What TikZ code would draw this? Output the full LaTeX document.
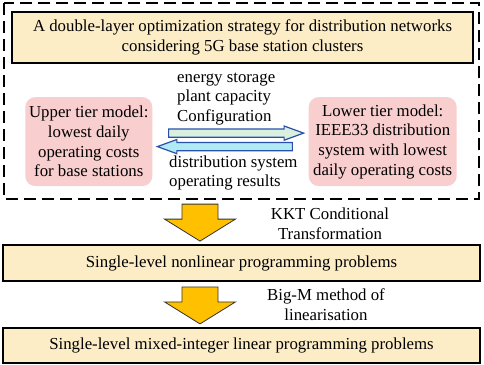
\documentclass[tikz,border=0pt]{standalone}
\usepackage{fontspec}
\setmainfont{Liberation Serif}
\usetikzlibrary{positioning,shapes.arrows,calc}
\definecolor{paleyellow}{RGB}{253,237,199}
\definecolor{palepink}{RGB}{249,206,206}
\definecolor{gold}{RGB}{255,192,0}
\definecolor{arrowblue}{RGB}{40,80,170}
\definecolor{palegreen}{RGB}{218,240,222}
\definecolor{palecyan}{RGB}{178,234,244}

\begin{document}
\begin{tikzpicture}[font=\fontsize{16.8}{19.7}\selectfont,node distance=6pt,
 titlebox/.style={draw,line width=1.8pt,fill=paleyellow,align=center,inner sep=0pt},
 modelbox/.style={fill=palepink,rounded corners=10pt,align=center,inner sep=0pt,minimum height=89pt},
 thinarrow/.style={single arrow,draw=arrowblue,line width=1.2pt,inner xsep=0pt,inner ysep=3.5pt,
  single arrow head extend=3pt,single arrow tip angle=40,minimum height=135pt},
 bigarrow/.style={draw=black!80,fill=gold,line width=0.8pt},
 note/.style={inner sep=0pt,align=left}]
\useasboundingbox (0,0) rectangle (484pt,-364pt);
\draw[dash pattern=on 12pt off 6pt,line width=1.6pt] (4pt,-3pt) rectangle (479pt,-199pt);
\node[titlebox,minimum width=461pt,minimum height=51pt] (title) at (242.5pt,-37.5pt)
 {A double-layer optimization strategy for distribution networks\\considering 5G base station clusters};
\node[modelbox,minimum width=127pt,below right=33pt and 14pt of title.south west] (upper)
 {Upper tier model:\\lowest daily\\operating costs\\for base stations};
\node[modelbox,minimum width=148pt,right=156pt of upper] (lower)
 {Lower tier model:\\IEEE33 distribution\\system with lowest\\daily operating costs};
\node[thinarrow,fill=palegreen] (config) at ($(upper.east)!0.5!(lower.west)+(0,8.5pt)$) {};
\node[thinarrow,fill=palecyan,shape border rotate=180] (results) at ($(upper.east)!0.5!(lower.west)+(0,-5pt)$) {};
\node[note,anchor=west] (configtext) at (177pt,-99pt) {energy storage\\plant capacity\\Configuration};
\node[note,anchor=west] (resultstext) at (169pt,-173pt) {distribution system\\operating results};
\node[titlebox,minimum width=477pt,minimum height=36pt] (nlp) at (241.5pt,-263pt)
 {Single-level nonlinear programming problems};
\node[titlebox,minimum width=477pt,minimum height=35pt,below=45pt of nlp] (milp)
 {Single-level mixed-integer linear programming problems};
\foreach \b in {nlp,milp}
 \draw[bigarrow,shift={([xshift=-41.5pt,yshift=40pt]\b.north)}] (-18pt,0) -- (18pt,0) -- (18pt,-15pt)
  -- (35.5pt,-15pt) -- (0,-37pt) -- (-35.5pt,-15pt) -- (-18pt,-15pt) -- cycle;
\node[note,align=center] (kkt) at (330pt,-223.5pt) {KKT Conditional\\Transformation};
\node[note,align=center] (bigm) at (326pt,-305pt) {Big-M method of\\linearisation};
\end{tikzpicture}
\end{document}
